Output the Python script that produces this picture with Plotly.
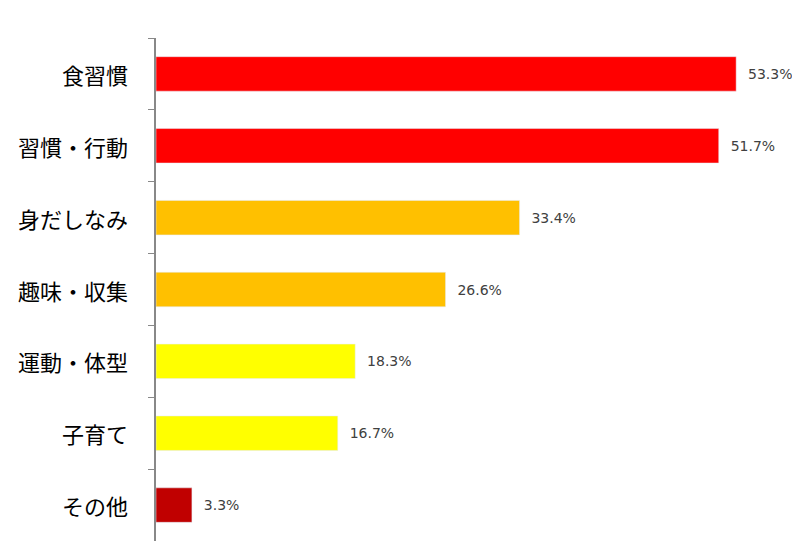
import plotly.graph_objects as go

categories = ["食習慣", "習慣・行動", "身だしなみ", "趣味・収集", "運動・体型", "子育て", "その他"]
values = [53.3, 51.7, 33.4, 26.6, 18.3, 16.7, 3.3]
colors = ["#FF0000", "#FF0000", "#FFC000", "#FFC000", "#FFFF00", "#FFFF00", "#C00000"]
labels = [f"  {v}%" for v in values]

fig = go.Figure(go.Bar(
    y=categories, x=values, orientation="h", marker_color=colors, width=0.48,
    text=labels, textposition="outside", cliponaxis=False,
    textfont=dict(size=14, color="#404040", family="DejaVu Sans"),
))
fig.update_yaxes(autorange="reversed", showticklabels=False, ticks="outside", tickson="boundaries",
                 ticklen=6, tickcolor="#888888", showline=True, linecolor="#888888", linewidth=2,
                 showgrid=False)
fig.update_xaxes(range=[0, 59.9], visible=False)
for c in categories:
    fig.add_annotation(x=-0.04, xref="paper", y=c, yref="y", text=c, showarrow=False,
                       xanchor="right", font=dict(size=22, color="#000000", family="Noto Sans CJK JP"))
fig.update_layout(width=800, height=555, margin=dict(l=148, r=0, t=30, b=22),
                  plot_bgcolor="white", paper_bgcolor="white", showlegend=False)
fig.write_html("out.html")
